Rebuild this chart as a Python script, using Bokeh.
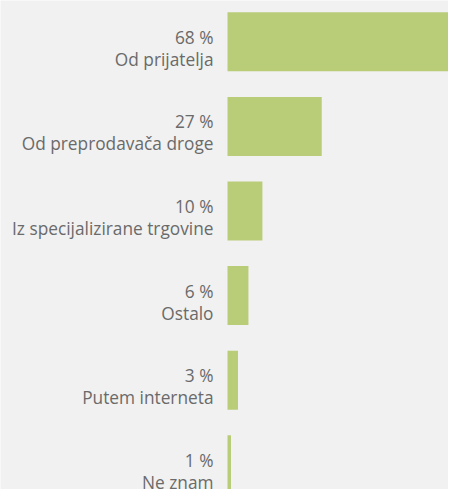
from bokeh.plotting import figure
from bokeh.models import ColumnDataSource, Range1d
from bokeh.core.properties import value
from bokeh.embed import file_html
from bokeh.resources import INLINE

categories = ["Od prijatelja", "Od preprodavača droge", "Iz specijalizirane trgovine",
              "Ostalo", "Putem interneta", "Ne znam"]
values = [68, 27, 10, 6, 3, 1]
pct_labels = [f"{v} %" for v in values]

W, H = 448, 489
px_per_unit = 3.49
left_px = 227
pitch = 84.6
first_center = 41.3
bar_px = 59

idx = list(range(len(categories)))
src = ColumnDataSource(dict(y=idx, v=values, cat=categories, pct=pct_labels,
                            zero=[0] * len(values)))

p = figure(width=W, height=H, output_backend="svg", toolbar_location=None,
           x_range=Range1d(-left_px / px_per_unit, (W - left_px) / px_per_unit),
           y_range=Range1d((H - first_center) / pitch, -first_center / pitch),
           min_border=0, min_border_left=0, min_border_right=0,
           min_border_top=0, min_border_bottom=0)
p.axis.visible = False
p.grid.visible = False
p.outline_line_color = None
p.background_fill_color = "#f1f1f1"
p.border_fill_color = "#f1f1f1"

p.hbar(y="y", left="zero", right="v", height=bar_px / pitch, source=src,
       fill_color="#b9cc78", line_color=None)

font = value("Open Sans")
p.text(x="zero", y="y", text="pct", source=src, x_offset=-14, y_offset=-4.6,
       text_align="right", text_baseline="alphabetic", text_font=font,
       text_font_size="17.3px", text_color="#6a6a6a")
p.text(x="zero", y="y", text="cat", source=src, x_offset=-14, y_offset=17.5,
       text_align="right", text_baseline="alphabetic", text_font=font,
       text_font_size="17.3px", text_color="#6a6a6a")

open("out.html", "w").write(file_html(p, INLINE))
